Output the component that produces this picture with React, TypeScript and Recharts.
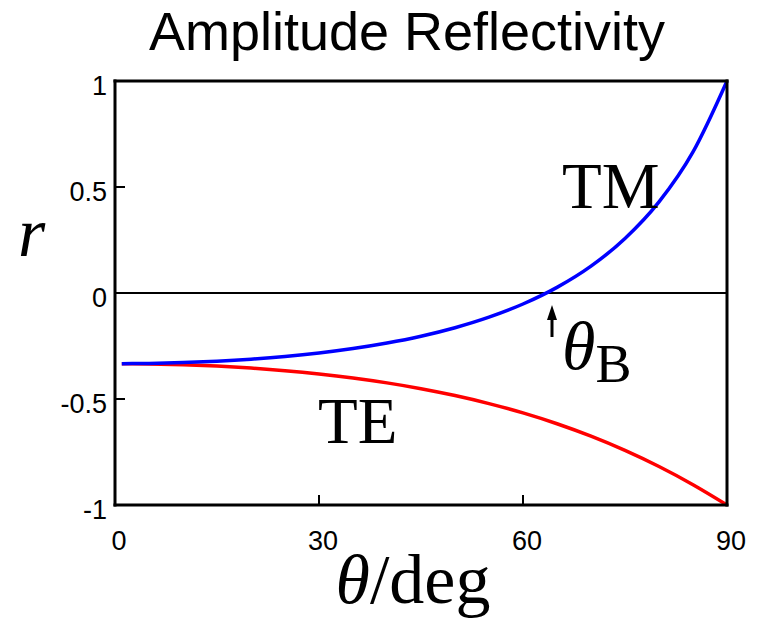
import React from "react";
import {
  LineChart,
  Line,
  XAxis,
  YAxis,
  ReferenceLine,
} from "recharts";

// incidence angle (deg) and amplitude reflection coefficients
const angles = [1, 5, 10, 15, 20, 25, 30, 35, 40, 45, 50, 55, 60, 65, 70, 75, 80, 85, 90];
const teValues = [
  -0.3334, -0.3346, -0.3385, -0.3449, -0.3542, -0.3665, -0.382, -0.401, -0.424, -0.4514,
  -0.4838, -0.5216, -0.5657, -0.6168, -0.6754, -0.7425, -0.8186, -0.9043, -1,
];
const tmValues = [
  -0.3332, -0.3321, -0.3282, -0.3216, -0.3121, -0.2994, -0.2829, -0.262, -0.236, -0.2038,
  -0.1638, -0.1141, -0.0519, 0.0266, 0.1268, 0.257, 0.4296, 0.6653, 1,
];
const xTicks = [0, 30, 60, 90];
const yTicks = [-1, -0.5, 0, 0.5, 1];

const data = angles.map((a, i) => ({ angle: a, te: teValues[i], tm: tmValues[i] }));

const W = 757;
const H = 629;
const sans = "'Liberation Sans', Arial, sans-serif";
const serif = "'Liberation Serif', 'Times New Roman', serif";

const LeftTick = (props: any) => {
  const { x, y, payload } = props;
  return (
    <g>
      <line x1={x} x2={x + 10} y1={y} y2={y} stroke="#000" strokeWidth={2} />
      <text x={x - 8} y={y + 14} textAnchor="end" fontFamily={sans} fontSize={27} fill="#000">
        {payload.value}
      </text>
    </g>
  );
};

const RightTick = (props: any) => {
  const { x, y } = props;
  return <line x1={x} x2={x - 10} y1={y} y2={y} stroke="#000" strokeWidth={2} />;
};

const BottomTick = (props: any) => {
  const { x, y, payload } = props;
  return (
    <g>
      <line x1={x} x2={x} y1={y} y2={y - 10} stroke="#000" strokeWidth={2} />
      <text x={x + 4} y={y + 45} textAnchor="middle" fontFamily={sans} fontSize={27} fill="#000">
        {payload.value}
      </text>
    </g>
  );
};

const TopTick = (props: any) => {
  const { x, y } = props;
  return <line x1={x} x2={x} y1={y} y2={y + 10} stroke="#000" strokeWidth={2} />;
};

const axisLine = { stroke: "#000", strokeWidth: 3, strokeLinecap: "square" as const };

export default function App() {
  return (
    <div style={{ position: "absolute", left: 0, top: 0, width: W, height: H, background: "#fff" }}>
      <LineChart
        width={W}
        height={H}
        data={data}
        margin={{ top: 80, right: 29, bottom: 123, left: 114 }}
      >
        <XAxis
          dataKey="angle"
          type="number"
          domain={[0, 90]}
          ticks={xTicks}
          height={1}
          tickSize={0}
          tickMargin={0}
          tickLine={false}
          axisLine={axisLine}
          tick={<BottomTick />}
          interval={0}
        />
        <XAxis
          xAxisId="top"
          orientation="top"
          type="number"
          domain={[0, 90]}
          ticks={xTicks}
          height={1}
          tickSize={0}
          tickMargin={0}
          tickLine={false}
          axisLine={axisLine}
          tick={<TopTick />}
          interval={0}
        />
        <YAxis
          type="number"
          domain={[-1, 1]}
          ticks={yTicks}
          width={1}
          tickSize={0}
          tickMargin={0}
          tickLine={false}
          axisLine={axisLine}
          tick={<LeftTick />}
          interval={0}
        />
        <YAxis
          yAxisId="right"
          orientation="right"
          type="number"
          domain={[-1, 1]}
          ticks={yTicks}
          width={1}
          tickSize={0}
          tickMargin={0}
          tickLine={false}
          axisLine={axisLine}
          tick={<RightTick />}
          interval={0}
        />
        <ReferenceLine y={0} stroke="#000" strokeWidth={1.2} shapeRendering="crispEdges" />
        <Line
          dataKey="te"
          type="monotone"
          stroke="#ff0000"
          strokeWidth={3.5}
          dot={false}
          isAnimationActive={false}
        />
        <Line
          dataKey="tm"
          type="monotone"
          stroke="#0000ff"
          strokeWidth={3.5}
          dot={false}
          isAnimationActive={false}
        />
      </LineChart>
      <svg
        width={W}
        height={H}
        style={{ position: "absolute", left: 0, top: 0, pointerEvents: "none" }}
      >
        <text x={407} y={50} textAnchor="middle" fontFamily={sans} fontSize={54} fill="#000">
          Amplitude Reflectivity
        </text>
        <text x={18} y={256} fontFamily={serif} fontStyle="italic" fontSize={70} fill="#000">
          r
        </text>
        <text x={413} y={603} textAnchor="middle" fontFamily={serif} fontSize={70} fill="#000">
          <tspan fontStyle="italic">θ</tspan>
          <tspan>/deg</tspan>
        </text>
        <text x={562} y={208} fontFamily={serif} fontSize={65} fill="#000">
          TM
        </text>
        <text x={318} y={443} fontFamily={serif} fontSize={65} fill="#000">
          TE
        </text>
        <line x1={552} x2={552} y1={337} y2={318} stroke="#000" strokeWidth={3} />
        <polygon points="552,305 547,320 557,320" fill="#000" />
        <text x={562} y={369} fontFamily={serif} fontSize={68} fill="#000">
          <tspan fontStyle="italic">θ</tspan>
          <tspan fontSize={54} dy={13}>B</tspan>
        </text>
      </svg>
    </div>
  );
}
